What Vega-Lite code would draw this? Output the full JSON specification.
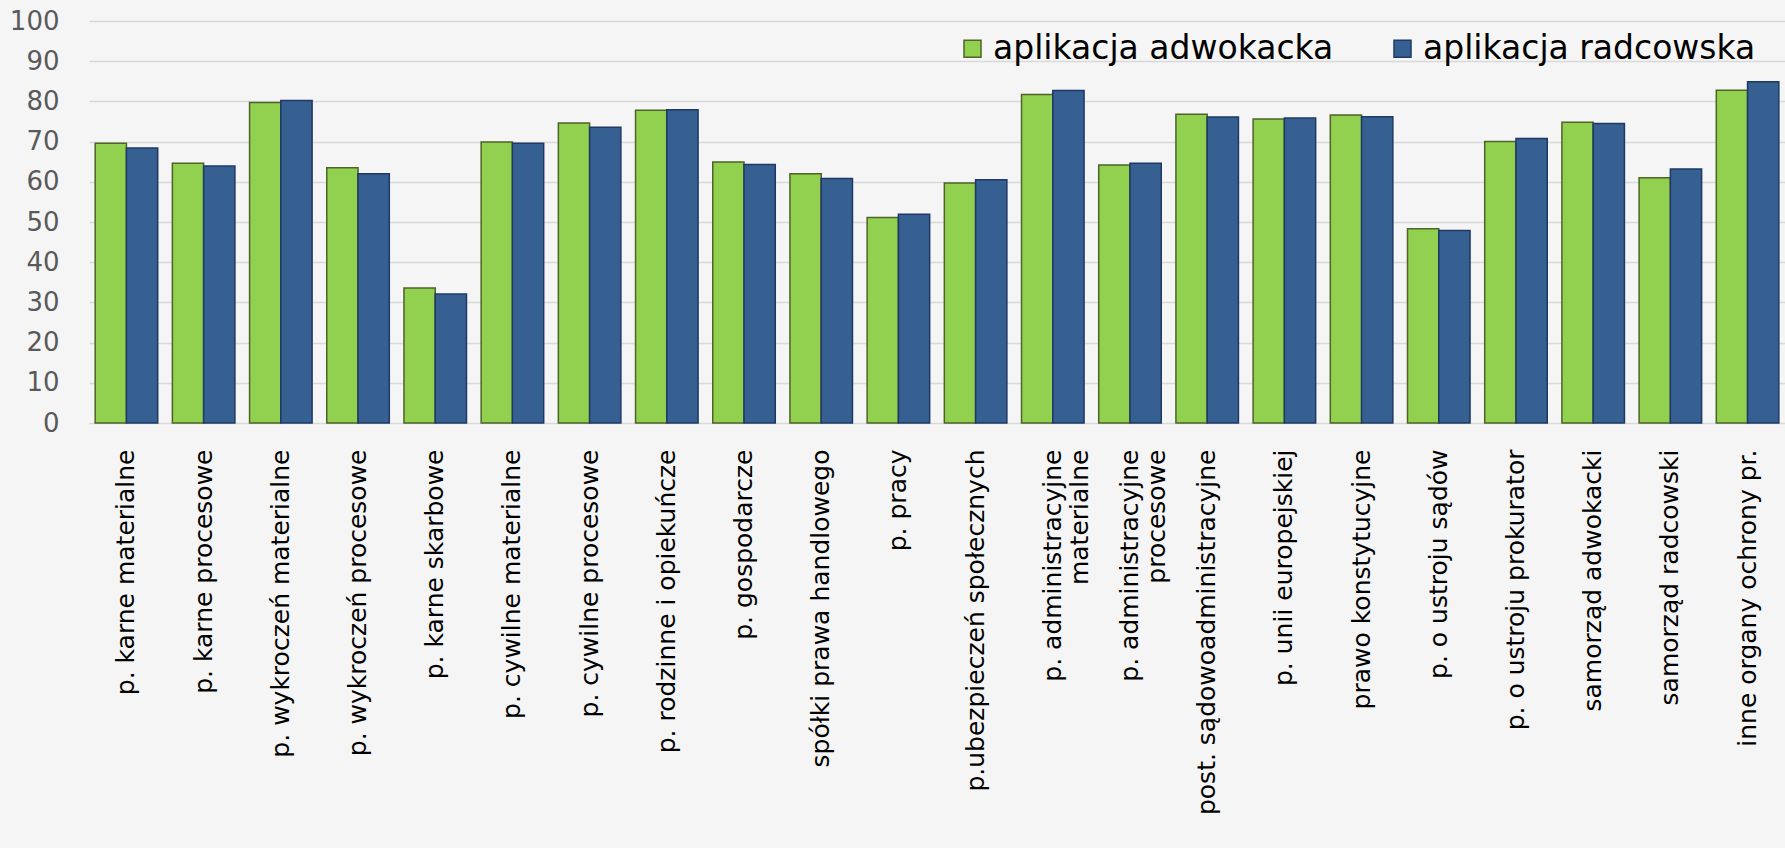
{
  "$schema": "https://vega.github.io/schema/vega-lite/v6.json",
  "width": 1696,
  "height": 402,
  "autosize": {"type": "none"},
  "padding": {"left": 89, "top": 21, "right": 0, "bottom": 425},
  "background": "#f5f5f5",
  "config": {"view": {"stroke": null}, "font": "DejaVu Sans"},
  "data": {"values": [
    {"kategoria": "p. karne materialne", "seria": "aplikacja adwokacka", "wartosc": 69.6},
    {"kategoria": "p. karne materialne", "seria": "aplikacja radcowska", "wartosc": 68.4},
    {"kategoria": "p. karne procesowe", "seria": "aplikacja adwokacka", "wartosc": 64.6},
    {"kategoria": "p. karne procesowe", "seria": "aplikacja radcowska", "wartosc": 63.9},
    {"kategoria": "p. wykroczeń materialne", "seria": "aplikacja adwokacka", "wartosc": 79.7},
    {"kategoria": "p. wykroczeń materialne", "seria": "aplikacja radcowska", "wartosc": 80.2},
    {"kategoria": "p. wykroczeń procesowe", "seria": "aplikacja adwokacka", "wartosc": 63.5},
    {"kategoria": "p. wykroczeń procesowe", "seria": "aplikacja radcowska", "wartosc": 62.0},
    {"kategoria": "p. karne skarbowe", "seria": "aplikacja adwokacka", "wartosc": 33.6},
    {"kategoria": "p. karne skarbowe", "seria": "aplikacja radcowska", "wartosc": 32.1},
    {"kategoria": "p. cywilne materialne", "seria": "aplikacja adwokacka", "wartosc": 69.9},
    {"kategoria": "p. cywilne materialne", "seria": "aplikacja radcowska", "wartosc": 69.6},
    {"kategoria": "p. cywilne procesowe", "seria": "aplikacja adwokacka", "wartosc": 74.6},
    {"kategoria": "p. cywilne procesowe", "seria": "aplikacja radcowska", "wartosc": 73.6},
    {"kategoria": "p. rodzinne i opiekuńcze", "seria": "aplikacja adwokacka", "wartosc": 77.8},
    {"kategoria": "p. rodzinne i opiekuńcze", "seria": "aplikacja radcowska", "wartosc": 77.9},
    {"kategoria": "p. gospodarcze", "seria": "aplikacja adwokacka", "wartosc": 64.9},
    {"kategoria": "p. gospodarcze", "seria": "aplikacja radcowska", "wartosc": 64.3},
    {"kategoria": "spółki prawa handlowego", "seria": "aplikacja adwokacka", "wartosc": 62.0},
    {"kategoria": "spółki prawa handlowego", "seria": "aplikacja radcowska", "wartosc": 60.8},
    {"kategoria": "p. pracy", "seria": "aplikacja adwokacka", "wartosc": 51.1},
    {"kategoria": "p. pracy", "seria": "aplikacja radcowska", "wartosc": 51.9},
    {"kategoria": "p.ubezpieczeń społecznych", "seria": "aplikacja adwokacka", "wartosc": 59.7},
    {"kategoria": "p.ubezpieczeń społecznych", "seria": "aplikacja radcowska", "wartosc": 60.5},
    {"kategoria": "p. administracyjne|materialne", "seria": "aplikacja adwokacka", "wartosc": 81.7},
    {"kategoria": "p. administracyjne|materialne", "seria": "aplikacja radcowska", "wartosc": 82.7},
    {"kategoria": "p. administracyjne|procesowe", "seria": "aplikacja adwokacka", "wartosc": 64.2},
    {"kategoria": "p. administracyjne|procesowe", "seria": "aplikacja radcowska", "wartosc": 64.6},
    {"kategoria": "post. sądowoadministracyjne", "seria": "aplikacja adwokacka", "wartosc": 76.8},
    {"kategoria": "post. sądowoadministracyjne", "seria": "aplikacja radcowska", "wartosc": 76.1},
    {"kategoria": "p. unii europejskiej", "seria": "aplikacja adwokacka", "wartosc": 75.6},
    {"kategoria": "p. unii europejskiej", "seria": "aplikacja radcowska", "wartosc": 75.9},
    {"kategoria": "prawo konstytucyjne", "seria": "aplikacja adwokacka", "wartosc": 76.6},
    {"kategoria": "prawo konstytucyjne", "seria": "aplikacja radcowska", "wartosc": 76.2},
    {"kategoria": "p. o ustroju sądów", "seria": "aplikacja adwokacka", "wartosc": 48.3},
    {"kategoria": "p. o ustroju sądów", "seria": "aplikacja radcowska", "wartosc": 47.9},
    {"kategoria": "p. o ustroju prokurator", "seria": "aplikacja adwokacka", "wartosc": 70.0},
    {"kategoria": "p. o ustroju prokurator", "seria": "aplikacja radcowska", "wartosc": 70.8},
    {"kategoria": "samorząd adwokacki", "seria": "aplikacja adwokacka", "wartosc": 74.8},
    {"kategoria": "samorząd adwokacki", "seria": "aplikacja radcowska", "wartosc": 74.5},
    {"kategoria": "samorząd radcowski", "seria": "aplikacja adwokacka", "wartosc": 61.0},
    {"kategoria": "samorząd radcowski", "seria": "aplikacja radcowska", "wartosc": 63.2},
    {"kategoria": "inne organy ochrony pr.", "seria": "aplikacja adwokacka", "wartosc": 82.8},
    {"kategoria": "inne organy ochrony pr.", "seria": "aplikacja radcowska", "wartosc": 84.9}
  ]},
  "mark": {"type": "bar", "strokeWidth": 1.5},
  "encoding": {
    "x": {
      "field": "kategoria", "type": "nominal", "sort": null,
      "scale": {"paddingInner": 0.19, "paddingOuter": 0.08},
      "axis": {
        "title": null, "labelAngle": -90, "labelAlign": "right", "labelBaseline": "middle",
        "labelFontSize": 25, "labelColor": "#000000", "labelPadding": 26,
        "ticks": false, "domain": false, "grid": false, "labelLimit": 600,
        "labelOverlap": false, "labelExpr": "split(datum.label, '|')"
      }
    },
    "xOffset": {"field": "seria", "type": "nominal", "scale": {"paddingInner": 0, "paddingOuter": 0}},
    "y": {
      "field": "wartosc", "type": "quantitative",
      "scale": {"domain": [0, 100], "nice": false},
      "axis": {
        "title": null, "values": [0, 10, 20, 30, 40, 50, 60, 70, 80, 90, 100],
        "labelFontSize": 26, "labelColor": "#595959", "labelPadding": 30,
        "ticks": false, "domain": false, "gridColor": "#d9d9d9", "gridWidth": 1.5
      }
    },
    "color": {
      "field": "seria", "type": "nominal",
      "scale": {"domain": ["aplikacja adwokacka", "aplikacja radcowska"], "range": ["#92d050", "#366092"]},
      "legend": {
        "title": null, "orient": "none", "legendX": 867, "legendY": 11, "direction": "horizontal",
        "symbolType": "square", "symbolSize": 289, "symbolStrokeWidth": 1.5,
        "labelFontSize": 33, "labelColor": "#000000", "labelOffset": 4, "columnPadding": 52, "labelLimit": 600
      }
    },
    "stroke": {
      "field": "seria", "type": "nominal",
      "scale": {"domain": ["aplikacja adwokacka", "aplikacja radcowska"], "range": ["#4f6228", "#1f3864"]},
      "legend": {
        "title": null, "orient": "none", "legendX": 867, "legendY": 11, "direction": "horizontal",
        "symbolType": "square", "symbolSize": 289, "symbolStrokeWidth": 1.5,
        "labelFontSize": 33, "labelColor": "#000000", "labelOffset": 4, "columnPadding": 52, "labelLimit": 600
      }
    }
  }
}
